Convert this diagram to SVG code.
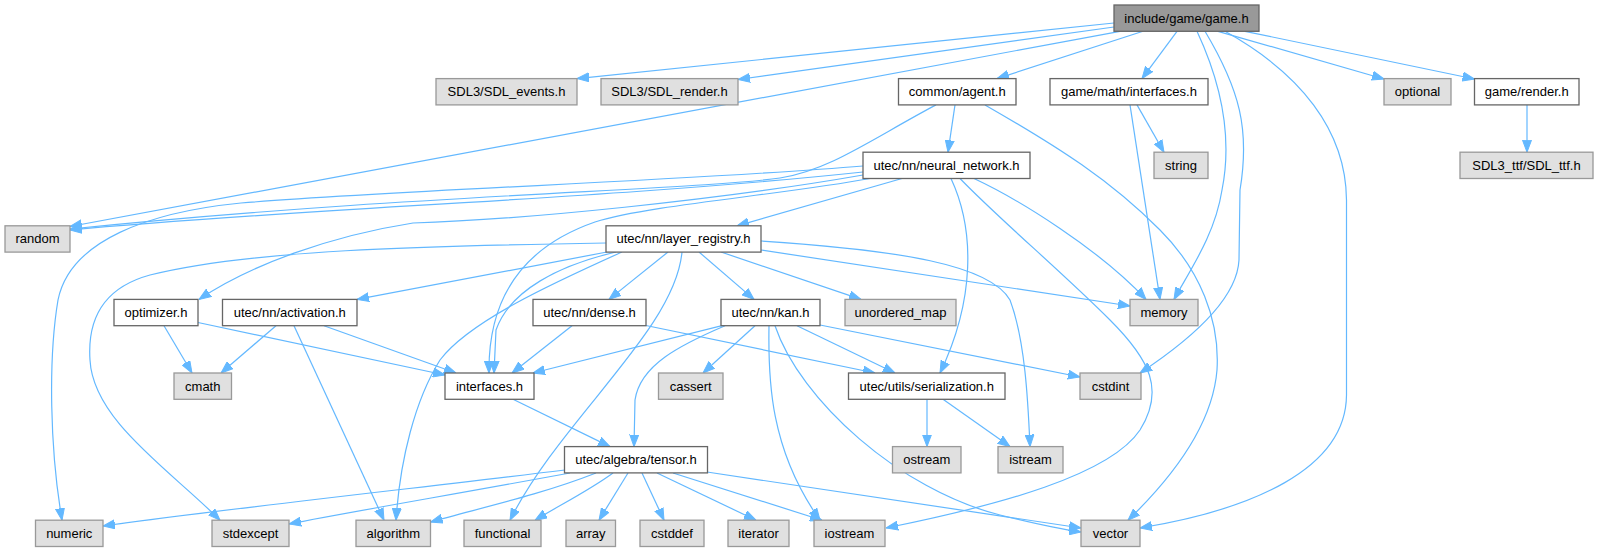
<svg xmlns="http://www.w3.org/2000/svg" width="1598" height="552" viewBox="0 0 1598 552">
<style>
.n rect{stroke-width:1.3}
.root rect{fill:#999999;stroke:#666666}
.file rect{fill:#ffffff;stroke:#666666}
.ext rect{fill:#e0e0e0;stroke:#999999}
.n text{font-family:"Liberation Sans",Arial,Helvetica,sans-serif;font-size:13px;fill:#000000;text-anchor:middle}
#edges path{fill:none;stroke:#63b8ff;stroke-width:1.2;marker-end:url(#arr)}
</style>
<defs>
<marker id="arr" markerUnits="userSpaceOnUse" markerWidth="12" markerHeight="10" viewBox="0 0 12 10" refX="12" refY="5" orient="auto">
<path d="M0,0.5 L12,5 L0,9.5 z" fill="#63b8ff" stroke="#63b8ff" stroke-width="1"/>
</marker>
</defs>
<rect width="1598" height="552" fill="#ffffff"/>
<g id="edges">
<path d="M1114,23 L577,78.6"/>
<path d="M1114,27 L738,79.5"/>
<path d="M1120,31.3 L70,226.5"/>
<path d="M1143,31.3 L997,78.6"/>
<path d="M1177,31.3 L1142,78.6"/>
<path d="M1197,31.3 C1222,85 1232,140 1222,190 C1215,235 1190,270 1174,299.4"/>
<path d="M1205,31.3 C1240,90 1250,130 1240,190 L1239,260 C1237,300 1190,340 1140,373"/>
<path d="M1225,31.3 C1300,73 1346,130 1346.5,200 L1346.5,395 C1346,470 1250,510 1140,528"/>
<path d="M1218,31.3 L1384,79"/>
<path d="M1245,31.3 L1474.5,79"/>
<path d="M1137,104.9 L1164,152.2"/>
<path d="M1130,104.9 L1160,299.4"/>
<path d="M1527,104.9 L1527,152.2"/>
<path d="M955,104.9 L948,152.2"/>
<path d="M985,104.9 C1060,148 1110,180 1160,230 C1200,270 1220,320 1217,370 C1213,420 1180,470 1128,520.2"/>
<path d="M936,104.9 C870,140 830,170 780,178 C700,190 400,195 70,229"/>
<path d="M902,178.5 L737,225.8"/>
<path d="M863,172 C600,200 300,208 70,230"/>
<path d="M863,166 C700,180 400,190 241,203 C150,212 70,240 58,300 C48,360 50,450 62,520.2"/>
<path d="M863,175 C720,200 520,220 413,223 C330,236 250,265 199,299.4"/>
<path d="M870,178.5 C780,195 650,205 595,222 C520,248 488,300 489,373"/>
<path d="M974,178.5 C1020,200 1100,250 1146,299.4"/>
<path d="M951,178.5 C975,230 975,300 940,373"/>
<path d="M960,178.5 C1000,220 1060,270 1110,320 C1150,360 1165,390 1140,430 C1110,475 1000,505 886,528"/>
<path d="M606,243 C420,246 250,250 150,275 C95,290 88,330 90,360 C93,420 170,470 220,520.2"/>
<path d="M616,252 C560,265 510,290 496,330 L494,373"/>
<path d="M622,252 C560,280 470,320 440,360 C415,400 400,460 396,520.2"/>
<path d="M607,252 L357,299.4"/>
<path d="M682,252 C675,330 560,420 510,520.2"/>
<path d="M668,252 L609,299.4"/>
<path d="M699,252 L754,299.4"/>
<path d="M721,252 L861,299.4"/>
<path d="M761,250 L1130,306"/>
<path d="M761,241 C900,250 990,265 1010,300 C1025,340 1028,400 1030,446.6"/>
<path d="M164,325.7 L192,373"/>
<path d="M198,322.5 L445,375"/>
<path d="M276,325.7 L221,373"/>
<path d="M294,325.7 L384,520.2"/>
<path d="M324,325.7 L456,373"/>
<path d="M572,325.7 L512,373"/>
<path d="M646,325.5 L875,373"/>
<path d="M722,325.7 L533,373"/>
<path d="M755,325.7 L703,373"/>
<path d="M725,325.7 C680,345 640,365 635,400 L634,446.6"/>
<path d="M769,325.7 C768,380 770,450 820,520.2"/>
<path d="M775,325.7 C800,400 900,490 1000,515 C1040,525 1060,529 1081,532"/>
<path d="M797,325.7 L895,373"/>
<path d="M820,325 L1080,377"/>
<path d="M927,399.3 L927,446.6"/>
<path d="M943,399.3 L1010,446.6"/>
<path d="M513,399.3 L610,446.6"/>
<path d="M565,470 C400,490 200,512 103,526"/>
<path d="M570,473 C450,495 350,512 289,524"/>
<path d="M596,473 C540,495 480,508 430.5,522"/>
<path d="M613,473 C590,490 560,505 535,520.2"/>
<path d="M628,473 L599,520.2"/>
<path d="M642,473 L664,520.2"/>
<path d="M657,473 L756,520.2"/>
<path d="M673,473 L822,520.2"/>
<path d="M707,472 L1081,528"/>
</g>
<g id="node_game" class="n root"><rect x="1114" y="5" width="145" height="26.3"/><text x="1186.5" y="22.6">include/game/game.h</text></g>
<g id="node_sdlev" class="n ext"><rect x="436" y="78.6" width="141" height="26.3"/><text x="506.5" y="96.2">SDL3/SDL_events.h</text></g>
<g id="node_sdlren" class="n ext"><rect x="601" y="78.6" width="137" height="26.3"/><text x="669.5" y="96.2">SDL3/SDL_render.h</text></g>
<g id="node_agent" class="n file"><rect x="898.5" y="78.6" width="117.5" height="26.3"/><text x="957.25" y="96.2">common/agent.h</text></g>
<g id="node_gmi" class="n file"><rect x="1050" y="78.6" width="158" height="26.3"/><text x="1129" y="96.2">game/math/interfaces.h</text></g>
<g id="node_optional" class="n ext"><rect x="1384" y="78.6" width="67" height="26.3"/><text x="1417.5" y="96.2">optional</text></g>
<g id="node_render" class="n file"><rect x="1474.5" y="78.6" width="104.5" height="26.3"/><text x="1526.75" y="96.2">game/render.h</text></g>
<g id="node_nn" class="n file"><rect x="863" y="152.2" width="167" height="26.3"/><text x="946.5" y="169.8">utec/nn/neural_network.h</text></g>
<g id="node_string" class="n ext"><rect x="1154" y="152.2" width="54" height="26.3"/><text x="1181" y="169.8">string</text></g>
<g id="node_ttf" class="n ext"><rect x="1460" y="152.2" width="133" height="26.3"/><text x="1526.5" y="169.8">SDL3_ttf/SDL_ttf.h</text></g>
<g id="node_random" class="n ext"><rect x="5" y="225.8" width="65" height="26.3"/><text x="37.5" y="243.4">random</text></g>
<g id="node_layer" class="n file"><rect x="606" y="225.8" width="155" height="26.3"/><text x="683.5" y="243.4">utec/nn/layer_registry.h</text></g>
<g id="node_optimizer" class="n file"><rect x="114" y="299.4" width="84" height="26.3"/><text x="156" y="317">optimizer.h</text></g>
<g id="node_activation" class="n file"><rect x="222.5" y="299.4" width="134.5" height="26.3"/><text x="289.75" y="317">utec/nn/activation.h</text></g>
<g id="node_dense" class="n file"><rect x="533" y="299.4" width="113" height="26.3"/><text x="589.5" y="317">utec/nn/dense.h</text></g>
<g id="node_kan" class="n file"><rect x="721" y="299.4" width="99" height="26.3"/><text x="770.5" y="317">utec/nn/kan.h</text></g>
<g id="node_umap" class="n ext"><rect x="845" y="299.4" width="111" height="26.3"/><text x="900.5" y="317">unordered_map</text></g>
<g id="node_memory" class="n ext"><rect x="1130" y="299.4" width="68" height="26.3"/><text x="1164" y="317">memory</text></g>
<g id="node_cmath" class="n ext"><rect x="174" y="373" width="57.5" height="26.3"/><text x="202.75" y="390.6">cmath</text></g>
<g id="node_interfaces" class="n file"><rect x="445" y="373" width="89" height="26.3"/><text x="489.5" y="390.6">interfaces.h</text></g>
<g id="node_cassert" class="n ext"><rect x="658.5" y="373" width="64.5" height="26.3"/><text x="690.75" y="390.6">cassert</text></g>
<g id="node_serial" class="n file"><rect x="848.5" y="373" width="156.5" height="26.3"/><text x="926.75" y="390.6">utec/utils/serialization.h</text></g>
<g id="node_cstdint" class="n ext"><rect x="1080" y="373" width="61" height="26.3"/><text x="1110.5" y="390.6">cstdint</text></g>
<g id="node_tensor" class="n file"><rect x="564.5" y="446.6" width="143" height="26.3"/><text x="636" y="464.2">utec/algebra/tensor.h</text></g>
<g id="node_ostream" class="n ext"><rect x="892.5" y="446.6" width="68.5" height="26.3"/><text x="926.75" y="464.2">ostream</text></g>
<g id="node_istream" class="n ext"><rect x="998" y="446.6" width="65" height="26.3"/><text x="1030.5" y="464.2">istream</text></g>
<g id="node_numeric" class="n ext"><rect x="35.5" y="520.2" width="67.5" height="26.3"/><text x="69.25" y="537.8">numeric</text></g>
<g id="node_stdexcept" class="n ext"><rect x="212" y="520.2" width="77" height="26.3"/><text x="250.5" y="537.8">stdexcept</text></g>
<g id="node_algorithm" class="n ext"><rect x="356" y="520.2" width="74.5" height="26.3"/><text x="393.25" y="537.8">algorithm</text></g>
<g id="node_functional" class="n ext"><rect x="464" y="520.2" width="77" height="26.3"/><text x="502.5" y="537.8">functional</text></g>
<g id="node_array" class="n ext"><rect x="566" y="520.2" width="49.5" height="26.3"/><text x="590.75" y="537.8">array</text></g>
<g id="node_cstddef" class="n ext"><rect x="640" y="520.2" width="64" height="26.3"/><text x="672" y="537.8">cstddef</text></g>
<g id="node_iterator" class="n ext"><rect x="728" y="520.2" width="61" height="26.3"/><text x="758.5" y="537.8">iterator</text></g>
<g id="node_iostream" class="n ext"><rect x="814" y="520.2" width="71" height="26.3"/><text x="849.5" y="537.8">iostream</text></g>
<g id="node_vector" class="n ext"><rect x="1081" y="520.2" width="59" height="26.3"/><text x="1110.5" y="537.8">vector</text></g>
</svg>
